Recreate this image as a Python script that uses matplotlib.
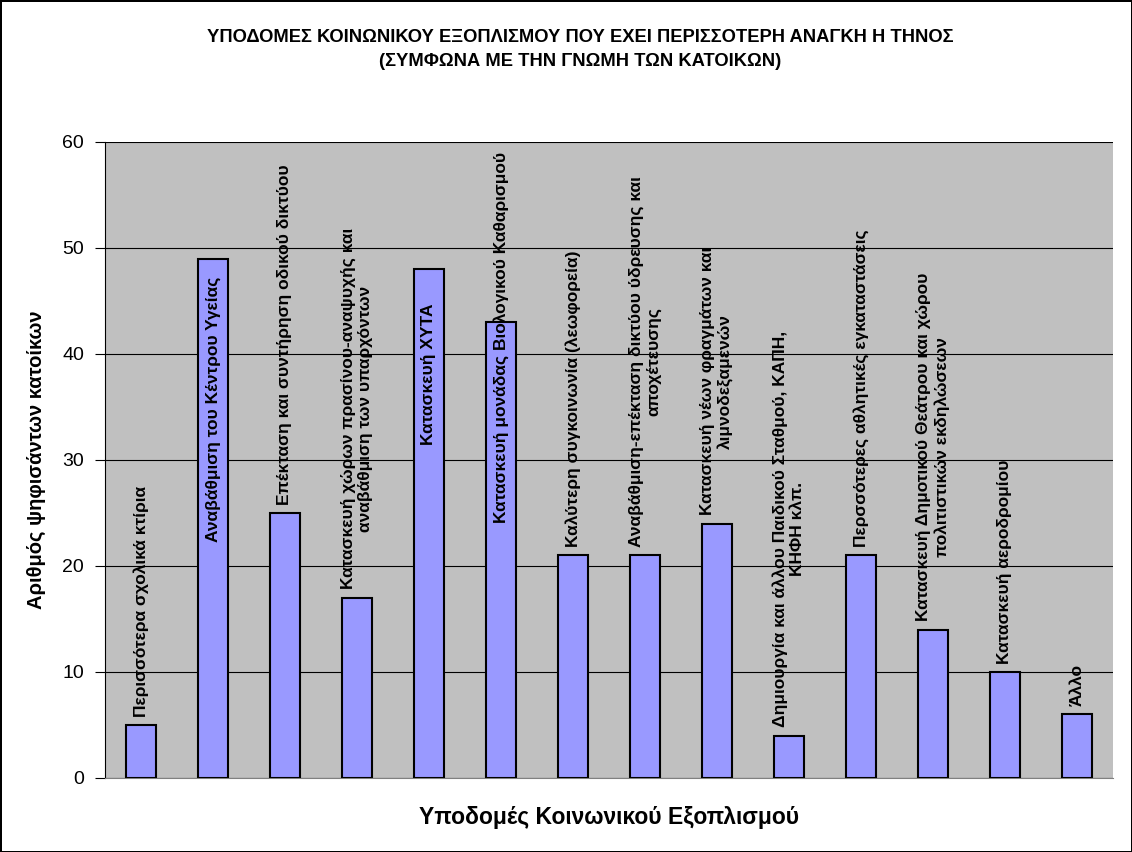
import numpy as np
import matplotlib.pyplot as plt

plt.rcParams['font.family'] = ['Liberation Sans', 'DejaVu Sans']

categories = [
    'Περισσότερα σχολικά κτίρια',
    'Αναβάθμιση του Κέντρου Υγείας',
    'Επέκταση και συντήρηση οδικού δικτύου',
    'Κατασκευή χώρων πρασίνου-αναψυχής και\nαναβάθμιση των υπαρχόντων',
    'Κατασκευή ΧΥΤΑ',
    'Κατασκευή μονάδας Βιολογικού Καθαρισμού',
    'Καλύτερη συγκοινωνία (λεωφορεία)',
    'Αναβάθμιση-επέκταση δικτύου ύδρευσης και\nαποχέτευσης',
    'Κατασκευή νέων φραγμάτων και\nλιμνοδεξαμενών',
    'Δημιουργία και άλλου Παιδικού Σταθμού, ΚΑΠΗ,\nΚΗΦΗ κλπ.',
    'Περσσότερες αθλητικές εγκαταστάσεις',
    'Κατασκευή Δημοτικού Θεάτρου και χώρου\nπολιτιστικών εκδηλώσεων',
    'Κατασκευή αεροδρομίου',
    'Άλλο',
]
votes = [5, 49, 25, 17, 48, 43, 21, 21, 24, 4, 21, 14, 10, 6]
yticks = [0, 10, 20, 30, 40, 50, 60]

title1 = 'ΥΠΟΔΟΜΕΣ ΚΟΙΝΩΝΙΚΟΥ ΕΞΟΠΛΙΣΜΟΥ ΠΟΥ ΕΧΕΙ ΠΕΡΙΣΣΟΤΕΡΗ ΑΝΑΓΚΗ Η ΤΗΝΟΣ'
title2 = '(ΣΥΜΦΩΝΑ ΜΕ ΤΗΝ ΓΝΩΜΗ ΤΩΝ ΚΑΤΟΙΚΩΝ)'

fig = plt.figure(figsize=(11.32, 8.52), dpi=100)
fig.patch.set_edgecolor('black')
fig.patch.set_linewidth(2)
ax = fig.add_axes([105 / 1132, 74 / 852, 1008 / 1132, 636 / 852])
ax.set_facecolor('#C0C0C0')

x = np.arange(len(votes))
ax.bar(x, votes, width=0.42, color='#9999FF', edgecolor='black', linewidth=1.5, zorder=3)

ax.set_xlim(-0.5, len(votes) - 0.5)
ax.set_ylim(0, 60)
ax.set_yticks(yticks)
ax.tick_params(axis='y', labelsize=14, length=7, color='black', direction='out', pad=8)
ax.set_xticks([])
ax.yaxis.grid(True, color='black', linewidth=0.8, zorder=1)
ax.set_axisbelow(True)
for s in ['top', 'right']:
    ax.spines[s].set_visible(False)
ax.spines['left'].set_color('black')
ax.spines['bottom'].set_color('#808080')

ax.set_ylabel('Αριθμός ψηφισάντων κατοίκων', fontsize=14.5, fontweight='bold', labelpad=12)
ax.set_xlabel('Υποδομές Κοινωνικού Εξοπλισμού', fontsize=16.5, fontweight='bold', labelpad=20)
fig.text(580 / 1132, 1 - 38 / 852, title1, ha='center', va='center', fontsize=13.2, fontweight='bold')
fig.text(580 / 1132, 1 - 62 / 852, title2, ha='center', va='center', fontsize=13.2, fontweight='bold')

# bar labels: above the bar, except where the label would not fit
inside = {1: 18, 4: 34}
fig.canvas.draw()
renderer = fig.canvas.get_renderer()
ax_top = ax.get_window_extent().y1
for i, (lab, v) in enumerate(zip(categories, votes)):
    if i in inside:
        t = ax.annotate(lab, (i, v), xytext=(0, -inside[i] * 0.72), textcoords='offset points',
                        rotation=90, ha='center', va='top', fontsize=12.5, fontweight='bold',
                        multialignment='center', zorder=4)
    else:
        t = ax.annotate(lab, (i, v), xytext=(0, 6), textcoords='offset points',
                        rotation=90, ha='center', va='bottom', fontsize=12.5, fontweight='bold',
                        multialignment='center', zorder=4)
        bb = t.get_window_extent(renderer)
        if bb.y1 > ax_top - 10:
            t.set_position((0, 6 - (bb.y1 - ax_top + 10) * 0.72))

fig.savefig('out.png', dpi=100, edgecolor='black')
